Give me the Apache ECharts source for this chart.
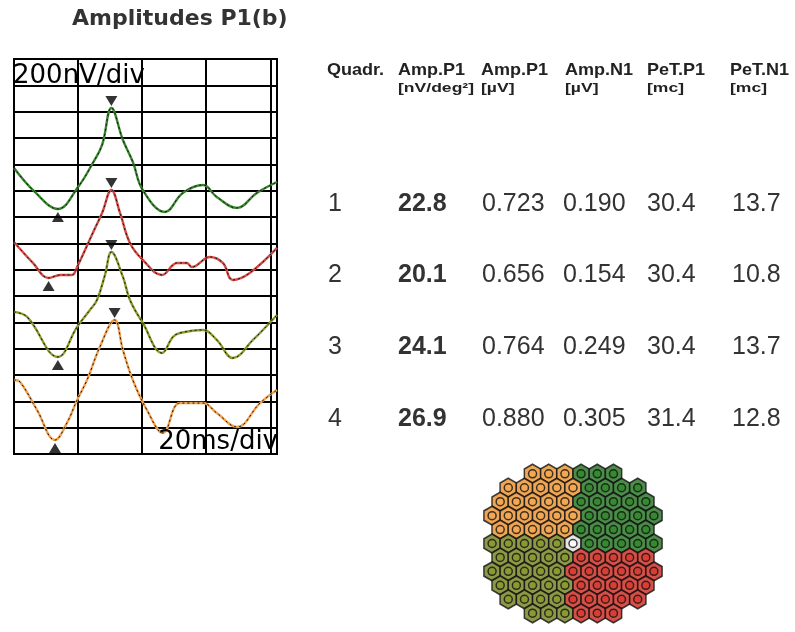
<!DOCTYPE html>
<html><head><meta charset="utf-8">
<script src="https://cdn.jsdelivr.net/npm/echarts@6/dist/echarts.min.js"></script>
<style>html,body{margin:0;padding:0;background:#fff}#c{width:795px;height:632px}</style>
</head><body><div id="c"></div>
<script>
// ---- waveform data (time in ms, amplitude in nV incl. trace offset) ----
const quadrants = ['1', '2', '3', '4'];
const traceColors = ['#3a8530', '#d94a45', '#8e9b2c', '#f2a14e'];
const trace1Time = [0, 6.5, 13.7, 20.0, 24.6, 27.5, 30.4, 34.0, 37.1, 40.2, 47.1, 52.7, 59.0, 63.3, 69.6, 75.8, 82.1];
const trace1Value = [2172, 1990, 1861, 2028, 2210, 2347, 2628, 2385, 2218, 2005, 1838, 1983, 2043, 1952, 1869, 1983, 2066];
const trace2Time = [0, 5.9, 10.8, 14.4, 18.1, 19.7, 24.6, 27.5, 30.4, 33.1, 36.2, 40.2, 46.2, 50.9, 54.0, 55.5, 61.2, 65.2, 68.3, 73.6, 82.1];
const trace2Value = [1610, 1451, 1337, 1360, 1360, 1420, 1679, 1831, 2005, 1831, 1603, 1474, 1360, 1451, 1451, 1420, 1496, 1451, 1322, 1375, 1565];
const trace3Time = [0, 4.1, 13.7, 19.7, 23.7, 25.9, 28.4, 30.4, 34.0, 36.2, 40.2, 46.2, 49.6, 51.8, 59.0, 63.3, 68.3, 74.6, 82.1];
const trace3Value = [1079, 1041, 737, 965, 1094, 1170, 1360, 1534, 1345, 1170, 995, 767, 889, 919, 942, 866, 729, 866, 1056];
const trace4Time = [0, 1.9, 7.2, 12.8, 16.5, 19.7, 22.8, 26.8, 31.4, 34.0, 37.1, 41.5, 46.5, 51.8, 59.0, 63.3, 69.6, 76.8, 82.1];
const trace4Value = [562, 547, 334, 106, 235, 410, 562, 813, 1018, 790, 562, 334, 160, 387, 387, 311, 205, 387, 486];

// ---- table data ----
const ampP1nVdeg = [22.8, 20.1, 24.1, 26.9];
const ampP1uV = [0.723, 0.656, 0.764, 0.880];
const ampN1uV = [0.190, 0.154, 0.249, 0.305];
const petP1 = [30.4, 30.4, 30.4, 31.4];
const petN1 = [13.7, 10.8, 13.7, 12.8];
const headerLine1 = ['Quadr.', 'Amp.P1', 'Amp.P1', 'Amp.N1', 'PeT.P1', 'PeT.N1'];
const headerLine2 = ['', '[nV/deg²]', '[µV]', '[µV]', '[mc]', '[mc]'];

// ---- hexagon map (hexagons per row, top to bottom) ----
const hexRowCounts = [6, 9, 10, 11, 10, 11, 10, 11, 10, 9, 6];
const hexColors = { q1: '#1f6e1c', q2: '#c8261c', q3: '#707f1c', q4: '#e8902c', c: '#e0e0e0' };
const hexInner = { q1: '#2f8a2a', q2: '#dc3a2e', q3: '#8a9a2a', q4: '#f4a850', c: '#ffffff' };

const times = [trace1Time, trace2Time, trace3Time, trace4Time];
const values = [trace1Value, trace2Value, trace3Value, trace4Value];

const series = [];
for (let i = 0; i < 4; i++) {
  const data = times[i].map((t, k) => [t, values[i][k]]);
  series.push({ type: 'line', xAxisIndex: 0, yAxisIndex: 0, data, smooth: 0.4, showSymbol: false, silent: true,
    lineStyle: { color: traceColors[i], width: 2.4 }, z: 3 });
  series.push({ type: 'line', xAxisIndex: 0, yAxisIndex: 0, data, smooth: 0.4, showSymbol: false, silent: true,
    lineStyle: { color: '#111', width: 1, type: [2, 3] }, z: 4 });
  const pk = times[i].indexOf(petP1[i]);
  const tr = times[i].indexOf(petN1[i]);
  series.push({ type: 'scatter', xAxisIndex: 0, yAxisIndex: 0, data: [[petP1[i], values[i][pk]]],
    symbol: 'triangle', symbolRotate: 180, symbolSize: [12, 10], symbolOffset: [0, -7],
    itemStyle: { color: '#000' }, z: 5, silent: true });
  series.push({ type: 'scatter', xAxisIndex: 0, yAxisIndex: 0, data: [[petN1[i], values[i][tr]]],
    symbol: 'triangle', symbolSize: [12, 10], symbolOffset: [0, 8],
    itemStyle: { color: '#000' }, z: 5, silent: true });
}

// hex map
const hexData = [], innerData = [];
const nRows = hexRowCounts.length;
hexRowCounts.forEach((cnt, r) => {
  const y = ((nRows - 1) / 2 - r) * Math.sqrt(3) / 2;
  for (let j = 0; j < cnt; j++) {
    const x = j - (cnt - 1) / 2;
    let q;
    if (Math.abs(x) < 1e-6 && Math.abs(y) < 1e-6) q = 'c';
    else if (y > 1e-6) q = x > 1e-6 ? 'q1' : 'q4';
    else if (y < -1e-6) q = x > -1e-6 ? 'q2' : 'q3';
    else q = x > 0 ? 'q1' : 'q3';
    hexData.push({ value: [x, y], itemStyle: { color: hexColors[q] } });
    innerData.push({ value: [x, y], itemStyle: { color: hexInner[q] } });
  }
});
series.push({ type: 'scatter', xAxisIndex: 1, yAxisIndex: 1, data: hexData, clip: false, silent: true,
  symbol: 'path://M8,0 L16,4.62 L16,13.86 L8,18.48 L0,13.86 L0,4.62 Z', symbolSize: [16.4, 19],
  itemStyle: { borderColor: '#111', borderWidth: 1.6 }, z: 2 });
series.push({ type: 'scatter', xAxisIndex: 1, yAxisIndex: 1, data: innerData, clip: false, silent: true,
  symbol: 'circle', symbolSize: 8, itemStyle: { borderColor: '#111', borderWidth: 1.5 }, z: 3 });

// texts
const graphic = [];
const txt = (x, y, text, font, opts = {}) => graphic.push(Object.assign({
  type: 'text', x, y, z: 100, silent: true,
  style: { text, font, fill: opts.fill || '#222', align: opts.align || 'left', verticalAlign: 'middle' }
}, opts.scaleX ? { scaleX: opts.scaleX, originX: 0, originY: 0 } : {}));

txt(72, 19, 'Amplitudes P1(b)', 'bold 22px "DejaVu Sans"', { fill: '#333' });
txt(13, 76, '200nV/div', '26px "DejaVu Sans"', { fill: '#000' });
txt(278, 442, '20ms/div', '26px "DejaVu Sans"', { fill: '#000', align: 'right' });

const headX = [327, 398, 481, 565, 647, 730];
headerLine1.forEach((h, k) => txt(headX[k], 70, h, 'bold 17px "Liberation Sans"', { fill: '#222', scaleX: 1.06 }));
headerLine2.forEach((h, k) => { if (h) txt(headX[k], 88, h, 'bold 13px "Liberation Sans"', { fill: '#222', scaleX: 1.35 }); });

const rowY = [204, 275, 347, 419];
const colX = [328, 398, 482, 563, 647, 732];
quadrants.forEach((q, r) => {
  txt(colX[0], rowY[r], q, '25px "Liberation Sans"', { fill: '#333' });
  txt(colX[1], rowY[r], ampP1nVdeg[r].toFixed(1), 'bold 25px "Liberation Sans"', { fill: '#333' });
  txt(colX[2], rowY[r], ampP1uV[r].toFixed(3), '25px "Liberation Sans"', { fill: '#333' });
  txt(colX[3], rowY[r], ampN1uV[r].toFixed(3), '25px "Liberation Sans"', { fill: '#333' });
  txt(colX[4], rowY[r], petP1[r].toFixed(1), '25px "Liberation Sans"', { fill: '#333' });
  txt(colX[5], rowY[r], petN1[r].toFixed(1), '25px "Liberation Sans"', { fill: '#333' });
});

const hiddenAxis = (i, min, max) => ({ type: 'value', gridIndex: i, min, max, show: false });
const chart = echarts.init(document.getElementById('c'), null, { renderer: 'canvas' });
chart.setOption({
  animation: false,
  backgroundColor: '#fff',
  grid: [
    { left: 14, top: 59, width: 263, height: 395, show: true, borderColor: '#000', borderWidth: 2, backgroundColor: 'transparent' },
    { left: 484, top: 455, width: 178, height: 178 }
  ],
  xAxis: [
    { type: 'value', gridIndex: 0, min: 0, max: 82.1, interval: 20,
      axisLine: { show: false }, axisTick: { show: false }, axisLabel: { show: false },
      splitLine: { show: true, lineStyle: { color: '#000', width: 2 } } },
    hiddenAxis(1, -5.5, 5.5)
  ],
  yAxis: [
    { type: 'value', gridIndex: 0, min: 0, max: 3000, interval: 200,
      axisLine: { show: false }, axisTick: { show: false }, axisLabel: { show: false },
      splitLine: { show: true, lineStyle: { color: '#000', width: 2 } } },
    hiddenAxis(1, -5.5, 5.5)
  ],
  series,
  graphic
});
</script></body></html>
